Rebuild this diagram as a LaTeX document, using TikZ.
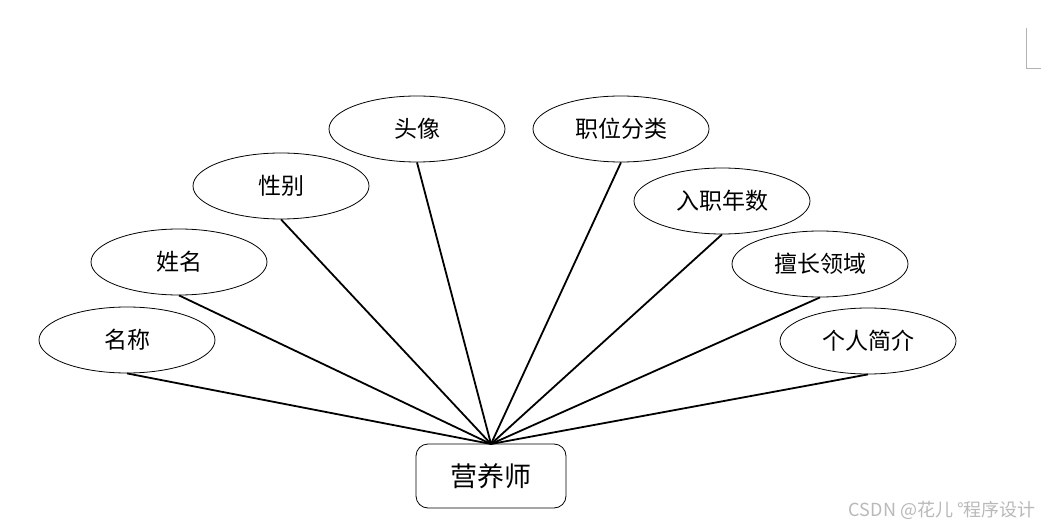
\documentclass[tikz,border=0pt]{standalone}
\usepackage{fontspec}
\usetikzlibrary{shapes.geometric}
\newfontfamily\cjk{Noto Sans CJK SC}
\begin{document}
\begin{tikzpicture}[x=1pt,y=-1pt,
  attr/.style={draw=black,line width=0.8pt,ellipse,minimum width=176pt,minimum height=66pt,inner sep=0pt,font=\cjk\fontsize{23}{26}\selectfont},
  ent/.style={draw=black,line width=0.8pt,rounded corners=12pt,minimum width=150pt,minimum height=64pt,inner sep=0pt,font=\cjk\fontsize{27}{30}\selectfont},
  link/.style={line width=1.8pt}]
\useasboundingbox (0,0) rectangle (1041,529);
\fill[white] (0,0) rectangle (1041,529);
\node[attr] (a1) at (127,340) {名称};
\node[attr] (a2) at (179,262) {姓名};
\node[attr] (a3) at (281,186) {性别};
\node[attr] (a4) at (417,129) {头像};
\node[attr] (a5) at (621,129) {职位分类};
\node[attr] (a6) at (722,201) {入职年数};
\node[attr] (a7) at (820,264) {擅长领域};
\node[attr] (a8) at (868,341) {个人简介};
\node[ent] (e) at (491,476) {营养师};
\coordinate (hub) at (491,444);
\foreach \n in {a1,a2,a3,a4,a5,a6,a7,a8} \draw[link] (\n.south) -- (hub);
\coordinate (c1) at (1026,28);
\coordinate (c2) at (1041,68);
\draw[gray!60,line width=0.8pt] (c1) |- (c2);
\node[anchor=east,text=gray!55,font=\cjk\fontsize{18}{21}\selectfont,inner sep=0pt] (wm) at (1036,510) {CSDN @花儿 °程序设计};
\end{tikzpicture}
\end{document}
